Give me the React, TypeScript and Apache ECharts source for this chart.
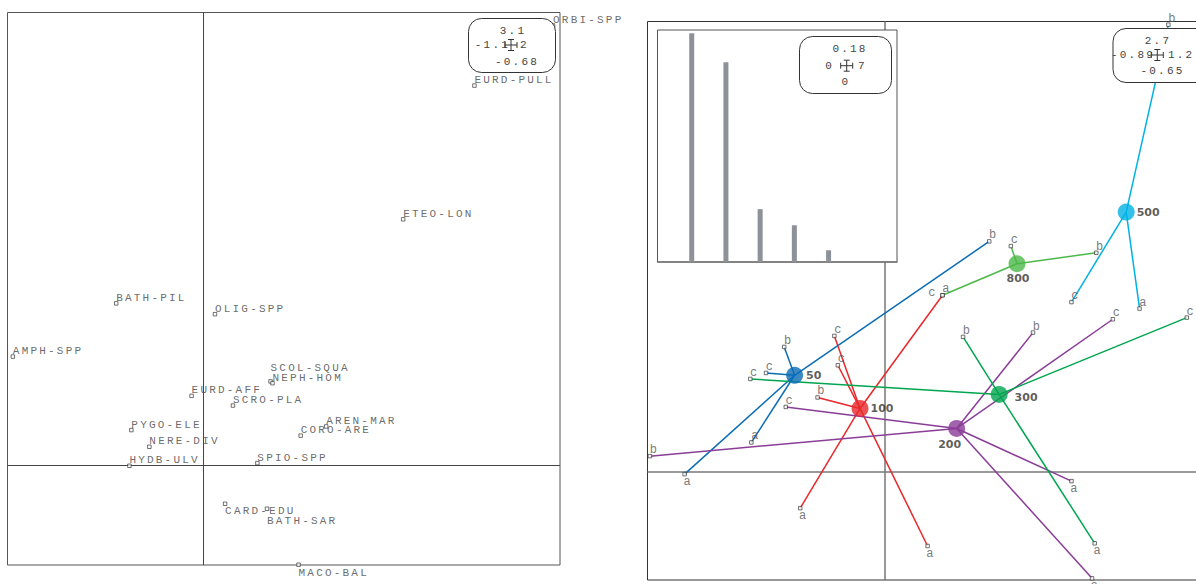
import React, { useEffect, useRef } from "react";
import * as echarts from "echarts";

// ---------- axis limits (as printed in the scale boxes) ----------
const LEFT_XLIM = [-1.1, 2];
const LEFT_YLIM = [-0.68, 3.1];
const RIGHT_XLIM = [-0.89, 1.2];
const RIGHT_YLIM = [-0.65, 2.7];
const EIG_XLIM = [0, 7];
const EIG_YLIM = [0, 0.18];

// ---------- left panel: species scores ----------
const SPECIES = [
  "ORBI-SPP", "EURD-PULL", "ETEO-LON", "BATH-PIL", "OLIG-SPP", "AMPH-SPP",
  "SCOL-SQUA", "NEPH-HOM", "EURD-AFF", "SCRO-PLA", "AREN-MAR", "CORO-ARE",
  "PYGO-ELE", "NERE-DIV", "HYDB-ULV", "SPIO-SPP", "CARD-EDU", "BATH-SAR", "MACO-BAL",
];
const SPECIES_X = [1.961, 1.52, 1.12, -0.49, 0.064, -1.07, 0.376, 0.387, -0.067, 0.165, 0.688, 0.545, -0.405, -0.304, -0.416, 0.302, 0.121, 0.356, 0.533];
const SPECIES_Y = [3.011, 2.6, 1.685, 1.11, 1.036, 0.746, 0.576, 0.564, 0.477, 0.411, 0.268, 0.205, 0.243, 0.129, -0.001, 0.017, -0.261, -0.295, -0.678];

// ---------- right panel: groups (class centroids) and samples ----------
const GROUPS = ["50", "100", "200", "300", "500", "800"];
const CENTROID_X = [-0.339, -0.094, 0.268, 0.427, 0.903, 0.494];
const CENTROID_Y = [0.578, 0.379, 0.259, 0.463, 1.557, 1.247];

const SAMPLE_GROUP = [
  "50", "50", "50", "50", "50",
  "100", "100", "100", "100", "100", "100",
  "200", "200", "200", "200", "200", "200",
  "300", "300", "300", "300",
  "500", "500", "500",
  "800", "800", "800",
];
const SAMPLE_LABEL = [
  "a", "a", "b", "c", "b",
  "c", "c", "b", "a", "a", "a",
  "b", "c", "b", "c", "a", "a",
  "c", "b", "c", "a",
  "c", "a", "b",
  "c", "b", "c",
];
const SAMPLE_X = [
  -0.751, -0.501, -0.378, -0.446, 0.39,
  -0.19, -0.177, -0.253, 0.215, -0.318, 0.159,
  -0.881, -0.372, 0.554, 0.853, 0.698, 0.775,
  -0.505, 0.292, 1.13, 0.785,
  0.698, 0.953, 1.061,
  0.471, 0.791, 0.215,
];
const SAMPLE_Y = [
  -0.015, 0.175, 0.748, 0.592, 1.381,
  0.814, 0.638, 0.445, 1.058, -0.219, -0.446,
  0.093, 0.388, 0.834, 0.914, -0.057, -0.64,
  0.556, 0.808, 0.924, -0.43,
  1.017, 0.978, 2.681,
  1.353, 1.313, 1.058,
];

// ---------- inset: eigenvalues ----------
const EIG_RANK = [1, 2, 3, 4, 5];
const EIGENVALUES = [0.1775, 0.155, 0.041, 0.0285, 0.0091];

// ---------- styles / label placement ----------
const GROUP_COLORS: Record<string, string> = {
  "50": "#0a6cb4",
  "100": "#e8282b",
  "200": "#8a3d97",
  "300": "#00a54f",
  "500": "#00b1e3",
  "800": "#4cb848",
};
// placement of sample letters: t = above right, b = below, l = left
const SAMPLE_SIDE = [
  "b", "t", "t", "t", "t",
  "t", "t", "t", "t", "b", "b",
  "t", "t", "t", "t", "b", "b",
  "t", "t", "t", "b",
  "t", "t", "t",
  "t", "t", "l",
];
const SIDE_OFFSET: Record<string, number[]> = { t: [4.5, -6], b: [3.5, 8], l: [-9.5, -2] };
const SPECIES_LABEL_DY: Record<string, number> = {
  "SCOL-SQUA": -13.5, "CARD-EDU": 7, "BATH-SAR": 12, "MACO-BAL": 8,
};
const CENTROID_LABEL: Record<string, any> = {
  "50": { position: "right", distance: 3, offset: [0, 0] },
  "100": { position: "right", distance: 2, offset: [0, 0] },
  "200": { position: "bottom", distance: 2, offset: [-7, 0] },
  "300": { position: "right", distance: 2, offset: [5, 3] },
  "500": { position: "right", distance: 2, offset: [0, 0] },
  "800": { position: "bottom", distance: 1, offset: [1, 0] },
};

const MONO = "Liberation Mono";
const MONO_FONT = `11px "${MONO}"`;

function hiddenAxis(gridIndex: number, lim: number[]) {
  return {
    type: "value", gridIndex, min: lim[0], max: lim[1], show: false,
    axisLine: { show: false }, splitLine: { show: false }, axisTick: { show: false }, axisLabel: { show: false },
  };
}

function scaleBox(box: number[], cx: number, cy: number, texts: any[]) {
  const [x, y, w, h] = box;
  const Z = 100;
  const children: any[] = [
    { type: "rect", z: Z, shape: { x, y, width: w, height: h, r: 13 }, style: { fill: "#fff", stroke: "#333", lineWidth: 1 } },
  ];
  const segs = [
    [cx - 6, cy, cx + 6, cy],
    [cx, cy - 5.5, cx, cy + 5.5],
    [cx - 6, cy - 3, cx - 6, cy + 3],
    [cx + 6, cy - 3, cx + 6, cy + 3],
    [cx - 3, cy - 5.5, cx + 3, cy - 5.5],
    [cx - 3, cy + 5.5, cx + 3, cy + 5.5],
  ];
  segs.forEach((s) =>
    children.push({ type: "line", z: Z + 1, shape: { x1: s[0], y1: s[1], x2: s[2], y2: s[3] }, style: { stroke: "#333", lineWidth: 1 } })
  );
  texts.forEach((t) =>
    children.push({
      type: "text", z: Z + 1,
      style: { text: t.text, x: t.x, y: t.y, fill: "#444", font: MONO_FONT, align: t.align, verticalAlign: "middle" },
    })
  );
  return { type: "group", z: Z, children };
}

function buildOption() {
  const leftAxisLines = {
    type: "lines", coordinateSystem: "cartesian2d", xAxisIndex: 0, yAxisIndex: 0, z: 1, silent: true,
    lineStyle: { color: "#444", width: 1, opacity: 1 },
    data: [
      { coords: [[LEFT_XLIM[0], 0], [LEFT_XLIM[1], 0]] },
      { coords: [[0, LEFT_YLIM[0]], [0, LEFT_YLIM[1]]] },
    ],
  };
  const speciesSeries = {
    type: "scatter", xAxisIndex: 0, yAxisIndex: 0, z: 3, silent: true,
    symbol: "rect", symbolSize: 3.5,
    itemStyle: { color: "#fff", borderColor: "#222", borderWidth: 0.8 },
    data: SPECIES.map((name, i) => ({
      name,
      value: [SPECIES_X[i], SPECIES_Y[i]],
      label: {
        show: true, formatter: name, position: "inside", align: "left", verticalAlign: "middle",
        offset: [0, SPECIES_LABEL_DY[name] ?? -5.5],
        color: "#444", fontFamily: MONO, fontSize: 11,
      },
    })),
  };

  const rightAxisLines = {
    type: "lines", coordinateSystem: "cartesian2d", xAxisIndex: 1, yAxisIndex: 1, z: 1, silent: true,
    lineStyle: { color: "#777", width: 1.5, opacity: 1 },
    data: [
      { coords: [[RIGHT_XLIM[0], 0], [RIGHT_XLIM[1], 0]] },
      { coords: [[0, RIGHT_YLIM[0]], [0, RIGHT_YLIM[1]]] },
    ],
  };

  const starSeries = GROUPS.map((g, gi) => ({
    type: "lines", coordinateSystem: "cartesian2d", xAxisIndex: 1, yAxisIndex: 1, z: 2, silent: true,
    lineStyle: { color: GROUP_COLORS[g], width: 1.5, opacity: 1 },
    data: SAMPLE_GROUP.map((sg, i) => (sg === g ? { coords: [[CENTROID_X[gi], CENTROID_Y[gi]], [SAMPLE_X[i], SAMPLE_Y[i]]] } : null)).filter(Boolean),
  }));

  const sampleSeries = {
    type: "scatter", xAxisIndex: 1, yAxisIndex: 1, z: 3, silent: true,
    symbol: "rect", symbolSize: 3.5,
    itemStyle: { color: "#fff", borderColor: "#222", borderWidth: 0.8 },
    data: SAMPLE_LABEL.map((lab, i) => ({
      value: [SAMPLE_X[i], SAMPLE_Y[i]],
      label: {
        show: true, formatter: lab, position: "inside", align: "center", verticalAlign: "middle",
        offset: SIDE_OFFSET[SAMPLE_SIDE[i]],
        color: "#555", fontFamily: MONO, fontSize: 12,
      },
    })),
  };

  const centroidSeries = {
    type: "scatter", xAxisIndex: 1, yAxisIndex: 1, z: 4, silent: true,
    symbol: "circle", symbolSize: 17,
    data: GROUPS.map((g, gi) => ({
      value: [CENTROID_X[gi], CENTROID_Y[gi]],
      itemStyle: { color: GROUP_COLORS[g] },
      label: {
        show: true, formatter: g, color: "#333", fontFamily: "DejaVu Sans", fontWeight: "bold", fontSize: 11,
        ...CENTROID_LABEL[g],
      },
    })),
  };

  const eigSeries = {
    type: "bar", xAxisIndex: 2, yAxisIndex: 2, z: 7, silent: true,
    barWidth: 5,
    itemStyle: { color: "#8c9297" },
    data: EIG_RANK.map((r, i) => [r, EIGENVALUES[i]]),
  };

  const gridBase = { show: true, borderWidth: 1, outerBoundsMode: "none", containLabel: false };

  return {
    animation: false,
    backgroundColor: "#fff",
    grid: [
      { ...gridBase, left: 7.5, top: 12.5, width: 552.5, height: 552.5, borderColor: "#555", backgroundColor: "transparent" },
      { ...gridBase, left: 647.5, top: 21.5, width: 558, height: 558.5, borderColor: "#333", backgroundColor: "transparent" },
      { ...gridBase, left: 657.5, top: 30, width: 239.5, height: 232, borderColor: "#555", backgroundColor: "#fff", z: 5 },
    ],
    xAxis: [
      hiddenAxis(0, LEFT_XLIM),
      hiddenAxis(1, RIGHT_XLIM),
      {
        type: "value", gridIndex: 2, min: EIG_XLIM[0], max: EIG_XLIM[1], z: 6,
        axisLine: { show: true, lineStyle: { color: "#777", width: 1.5 } },
        splitLine: { show: false }, axisTick: { show: false }, axisLabel: { show: false },
      },
    ],
    yAxis: [
      hiddenAxis(0, LEFT_YLIM),
      hiddenAxis(1, RIGHT_YLIM),
      hiddenAxis(2, EIG_YLIM),
    ],
    series: [leftAxisLines, speciesSeries, rightAxisLines, ...starSeries, sampleSeries, centroidSeries, eigSeries],
    graphic: [
      scaleBox([468.5, 18.5, 87, 54], 511, 45, [
        { text: String(LEFT_YLIM[1]), x: 513, y: 30.5, align: "center" },
        { text: String(LEFT_XLIM[0]), x: 510, y: 45, align: "right" },
        { text: String(LEFT_XLIM[1]), x: 520, y: 45, align: "left" },
        { text: String(LEFT_YLIM[0]), x: 517, y: 61.5, align: "center" },
      ]),
      scaleBox([1113, 28.5, 100, 54], 1157.3, 55, [
        { text: String(RIGHT_YLIM[1]), x: 1158, y: 40.7, align: "center" },
        { text: String(RIGHT_XLIM[0]), x: 1155, y: 55, align: "right" },
        { text: String(RIGHT_XLIM[1]), x: 1168, y: 55, align: "left" },
        { text: String(RIGHT_YLIM[0]), x: 1162.5, y: 71, align: "center" },
      ]),
      scaleBox([799.5, 36.5, 92, 57], 846.7, 65.7, [
        { text: String(EIG_YLIM[1]), x: 850, y: 49, align: "center" },
        { text: String(EIG_XLIM[0]), x: 834, y: 65.7, align: "right" },
        { text: String(EIG_XLIM[1]), x: 858, y: 65.7, align: "left" },
        { text: String(EIG_YLIM[0]), x: 846, y: 81.7, align: "center" },
      ]),
    ],
  };
}

export default function App() {
  const ref = useRef<HTMLDivElement>(null);
  useEffect(() => {
    const chart = echarts.init(ref.current as HTMLDivElement, null, { renderer: "svg" });
    chart.setOption(buildOption() as any);
    return () => chart.dispose();
  }, []);
  return (
    <>
      <style>{`.chart-root text[style*="Mono"]{letter-spacing:2.2px}`}</style>
      <div
        className="chart-root"
        ref={ref}
        style={{ position: "absolute", left: 0, top: 0, width: 1196, height: 584, background: "#fff" }}
      />
    </>
  );
}
